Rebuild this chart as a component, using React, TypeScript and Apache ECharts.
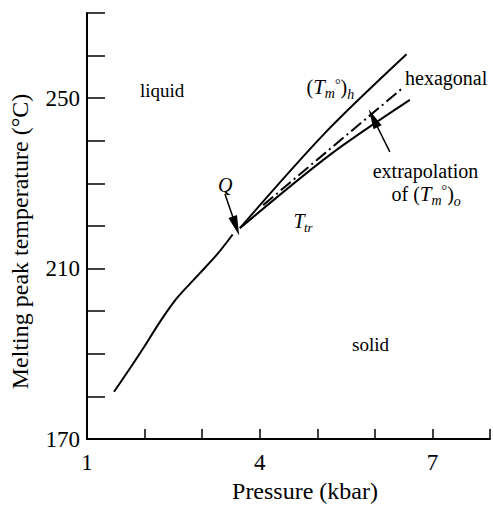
import React, { useEffect, useRef } from "react";
import * as echarts from "echarts";

// Axis ticks / labels
const xLabelValues = [1, 4, 7];
const yLabelValues = [170, 210, 250];

// Melting curve below the triple point Q
const lowP = [1.469, 1.747, 1.977, 2.267, 2.557, 2.904, 3.252, 3.53];
const lowT = [181.1, 186.6, 191.3, 197.5, 203.0, 208.1, 213.2, 218.0];
// (Tm°)h branch
const hexP = [3.656, 5.132, 6.55];
const hexT = [219.5, 241.8, 260.3];
// Ttr branch
const trP = [3.656, 5.219, 6.608];
const trT = [219.5, 236.7, 249.6];
// extrapolation of (Tm°)o (dash-dot)
const extP = [4.06, 6.5];
const extT = [224.9, 252.6];

// arrows [fromP, fromT, toP, toT]
const arrowQ = [3.396, 227.5, 3.587, 220.0];
const arrowExt = [6.26, 237.4, 5.97, 245.3];

const FONT = '"Liberation Serif", "Times New Roman", serif';

const zip = (a: number[], b: number[]) => a.map((v, i) => [v, b[i]]);

function txt(
  text: string,
  x: number,
  baseline: number,
  size: number,
  italic = false,
  align: "left" | "center" | "right" = "left"
) {
  return {
    type: "text",
    x,
    y: baseline - 0.34 * size,
    silent: true,
    style: {
      text,
      fill: "#000",
      fontSize: size,
      fontFamily: FONT,
      fontStyle: italic ? "italic" : "normal",
      textAlign: align,
      textVerticalAlign: "middle",
    },
  };
}

// piecewise label: [text, size, italic, baselineShift(+down), advanceEm]
type Piece = [string, number, boolean, number, number];
function seq(x0: number, baseline: number, pieces: Piece[]) {
  let x = x0;
  const out: any[] = [];
  for (const [t, s, it, dy, adv] of pieces) {
    out.push(txt(t, x, baseline + dy, s, it));
    x += adv * s;
  }
  return out;
}

export default function App() {
  const ref = useRef<HTMLDivElement>(null);
  useEffect(() => {
    if (!ref.current) return;
    const chart = echarts.init(ref.current, null, { renderer: "svg" });
    const lineSeries = (name: string, data: number[][], type: any = "solid", smooth: any = 0.3) => ({
      name,
      type: "line",
      data,
      smooth,
      showSymbol: false,
      symbol: "none",
      silent: true,
      lineStyle: { color: "#000", width: 2, type },
    });
    const arrow = (a: number[]) => [
      { coord: [a[0], a[1]], symbol: "none" },
      { coord: [a[2], a[3]], symbol: "triangle", symbolSize: [9, 20] },
    ];
    chart.setOption({
      animation: false,
      backgroundColor: "#fff",
      grid: { left: 87, right: 3, top: 13, bottom: 67, outerBoundsMode: "none", containLabel: false },
      xAxis: {
        type: "value",
        min: 1,
        max: 8,
        interval: 1,
        axisLine: { show: true, lineStyle: { color: "#000", width: 2 } },
        axisTick: { show: true, inside: true, length: 10, lineStyle: { color: "#000", width: 1.5 } },
        axisLabel: {
          formatter: (v: number) => (xLabelValues.includes(v) ? String(v) : ""),
          margin: 12,
          fontSize: 23,
          color: "#000",
          fontFamily: FONT,
        },
        splitLine: { show: false },
      },
      yAxis: {
        type: "value",
        min: 170,
        max: 270,
        interval: 10,
        axisLine: { show: true, lineStyle: { color: "#000", width: 2 } },
        axisTick: { show: true, inside: true, length: 18, lineStyle: { color: "#000", width: 1.5 } },
        axisLabel: {
          formatter: (v: number) => (yLabelValues.includes(v) ? String(v) : ""),
          margin: 7,
          fontSize: 23,
          color: "#000",
          fontFamily: FONT,
        },
        splitLine: { show: false },
      },
      series: [
        lineSeries("melting", zip(lowP, lowT)),
        lineSeries("Tm_h", zip(hexP, hexT)),
        lineSeries("Ttr", zip(trP, trT)),
        lineSeries("extrapolation", zip(extP, extT), [13, 4, 2, 4], false),
        {
          name: "arrows",
          type: "line",
          data: [],
          silent: true,
          markLine: {
            silent: true,
            animation: false,
            label: { show: false },
            lineStyle: { color: "#000", width: 1.5, type: "solid" },
            symbol: ["none", "triangle"],
            symbolSize: [9, 20],
            itemStyle: { color: "#000" },
            data: [arrow(arrowQ), arrow(arrowExt)],
          },
        },
      ],
      graphic: [
        {
          type: "text",
          x: 20,
          y: 241.5,
          rotation: Math.PI / 2,
          silent: true,
          style: {
            text: "Melting peak temperature (°C)",
            fill: "#000",
            fontSize: 24,
            fontFamily: FONT,
            textAlign: "center",
            textVerticalAlign: "middle",
          },
        },
        txt("Pressure (kbar)", 305, 499, 24, false, "center"),
        txt("liquid", 140, 97.3, 19),
        txt("solid", 352, 350.7, 19),
        txt("hexagonal", 405, 84.5, 20),
        txt("extrapolation", 425.5, 177.7, 20, false, "center"),
        // of (Tm°)o
        ...seq(391.5, 200.7, [
          ["of", 20, false, 0, 1.083],
          ["(", 20, false, 0, 0.333],
          ["T", 21, true, 0, 0.556],
          ["m", 14, true, 5, 0.722],
          ["°", 14, false, -5, 0.4],
          [")", 20, false, 0, 0.333],
          ["o", 14, true, 5.5, 0.5],
        ]),
        // (Tm°)h
        ...seq(306.5, 94, [
          ["(", 20, false, 0, 0.333],
          ["T", 21, true, 0, 0.556],
          ["m", 14, true, 4.5, 0.722],
          ["°", 14, false, -5, 0.4],
          [")", 20, false, 0, 0.333],
          ["h", 14, true, 5.5, 0.5],
        ]),
        // Ttr
        txt("T", 293.5, 228, 20, true),
        txt("tr", 304, 232, 13, true),
        // Q
        txt("Q", 218, 191.5, 20, true),
      ],
    });
    return () => chart.dispose();
  }, []);
  return (
    <div
      ref={ref}
      style={{ position: "fixed", left: 0, top: 0, width: 493, height: 506, background: "#fff" }}
    />
  );
}
